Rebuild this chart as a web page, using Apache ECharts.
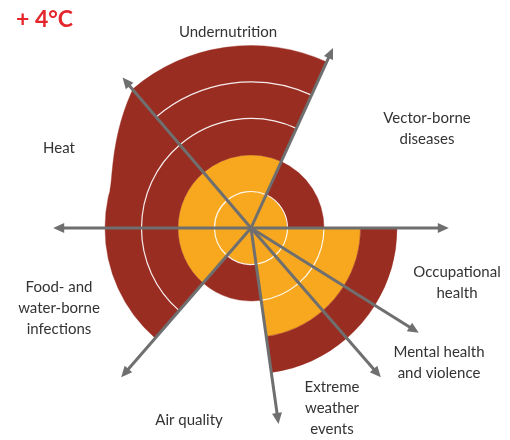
<!DOCTYPE html>
<html><head><meta charset="utf-8">
<script src="https://cdn.jsdelivr.net/npm/echarts@6/dist/echarts.min.js"></script>
<style>html,body{margin:0;padding:0;background:#fff}#c{width:510px;height:440px}</style>
</head><body><div id="c"></div>
<script>
// ---- data ----
const categories = ['Undernutrition', 'Vector-borne\ndiseases', 'Occupational\nhealth', 'Mental health\nand violence', 'Extreme\nweather\nevents', 'Air quality', 'Food- and\nwater-borne\ninfections', 'Heat'];
const sectorStart = [65.5, 0, 328, 311, 278, 229, 180, 130.5];
const sectorEnd = [130.5, 65.5, 360, 328, 311, 278, 229, 180];
const orangeLevels = [2, 1, 3, 3, 3, 1, 2, 2];
const redLevels = [3, 1, 1, 1, 1, 1, 2, 2];
const arrowAngles = [0, 65.5, 130.5, 180, 229, 278, 311, 328];
const arrowLength = 5.42;
const taperEndAngle = 165; // undernutrition outer band fades into Heat
const titleText = '+ 4°C';

// ---- layout / style ----
const ORANGE = '#f7a81f', RED = '#992d22', GRAY = '#6f6f6f';
const labelPos = [[228, 32], [427, 118], [457, 272], [439, 352], [332, 387], [189, 420], [59, 287], [59, 148]];
const LH = 21;

function helpers(api) {
  const c = api.coord([0, 0]);
  const cx = c[0], cy = c[1];
  const rad = lv => { const p = api.coord([lv, 0]); return Math.hypot(p[0] - cx, p[1] - cy); };
  const ang = a => { const p = api.coord([1, a]); return Math.atan2(p[1] - cy, p[0] - cx); };
  return { cx, cy, rad, ang };
}

function renderSector(params, api) {
  const i = api.value(2);
  const h = helpers(api);
  let s = h.ang(sectorEnd[i]), e = h.ang(sectorStart[i]);
  while (e <= s) e += Math.PI * 2;
  const total = orangeLevels[i] + redLevels[i];
  const col = k => k < orangeLevels[i] ? ORANGE : RED;
  const children = [];
  for (let k = 0; k < total; k++) {
    children.push({ type: 'sector', shape: { cx: h.cx, cy: h.cy, r0: h.rad(k), r: h.rad(k + 1), startAngle: s, endAngle: e, clockwise: true },
      style: { fill: col(k), stroke: col(k), lineWidth: 0.4 } });
  }
  if (i === 0) {
    // taper of the outer band into the neighbouring sector
    const pts = [];
    const a0 = sectorEnd[0] - 0.3;
    const n = 50;
    for (let j = 0; j <= n; j++) {
      const t = j / n;
      const a = a0 + (taperEndAngle - a0) * t;
      const lv = total - 1 + Math.pow(1 - t, 1.4);
      pts.push(api.coord([lv, a]));
    }
    for (let j = n; j >= 0; j--) {
      const a = a0 + (taperEndAngle - a0) * j / n;
      pts.push(api.coord([total - 1.02, a]));
    }
    children.push({ type: 'polygon', shape: { points: pts }, style: { fill: RED, stroke: RED, lineWidth: 0.4 } });
  }
  for (let k = 1; k < total; k++) {
    if (k === 1 || col(k - 1) === col(k)) {
      children.push({ type: 'arc', shape: { cx: h.cx, cy: h.cy, r: h.rad(k), startAngle: s, endAngle: e, clockwise: true },
        style: { stroke: 'rgba(255,255,255,0.9)', lineWidth: 1.2, fill: null } });
    }
  }
  return { type: 'group', children };
}

function renderArrow(params, api) {
  const c = api.coord([0, 0]);
  const tip = api.coord([api.value(0), api.value(1)]);
  const dx = tip[0] - c[0], dy = tip[1] - c[1], L = Math.hypot(dx, dy);
  const ux = dx / L, uy = dy / L;
  const hl = 11, hw = 5;
  const bx = tip[0] - ux * hl, by = tip[1] - uy * hl;
  return { type: 'group', children: [
    { type: 'line', shape: { x1: c[0], y1: c[1], x2: bx + ux * 2, y2: by + uy * 2 }, style: { stroke: GRAY, lineWidth: 3 } },
    { type: 'polygon', shape: { points: [tip, [bx - uy * hw, by + ux * hw], [bx + uy * hw, by - ux * hw]] }, style: { fill: GRAY } }
  ] };
}

const chart = echarts.init(document.getElementById('c'), null, { renderer: 'canvas' });
const FONT = 'Lato, "Liberation Sans", sans-serif';
const graphics = categories.map((t, i) => {
  const n = t.split('\n').length;
  return { type: 'text', z: 100, style: { text: t, x: labelPos[i][0], y: labelPos[i][1] + (n - 1) * LH / 2,
    align: 'center', verticalAlign: 'middle', lineHeight: LH, fill: '#333', font: '15px ' + FONT } };
});
graphics.push({ type: 'text', z: 100, style: { text: titleText, x: 16, y: 20, align: 'left', verticalAlign: 'middle',
  fill: '#e4252b', font: 'bold 23px ' + FONT } });

chart.setOption({
  animation: false,
  polar: { center: [251, 228], radius: 182.5 },
  angleAxis: { type: 'value', min: 0, max: 360, startAngle: 0, clockwise: false, show: false },
  radiusAxis: { type: 'value', min: 0, max: 5, show: false },
  graphic: graphics,
  series: [
    { type: 'custom', coordinateSystem: 'polar', clip: false, z: 2,
      data: categories.map((c, i) => [orangeLevels[i] + redLevels[i], (sectorStart[i] + sectorEnd[i]) / 2, i]),
      encode: { radius: 0, angle: 1 }, renderItem: renderSector },
    { type: 'custom', coordinateSystem: 'polar', clip: false, z: 3,
      data: arrowAngles.map(a => [arrowLength, a]),
      encode: { radius: 0, angle: 1 }, renderItem: renderArrow }
  ]
});
</script></body></html>
